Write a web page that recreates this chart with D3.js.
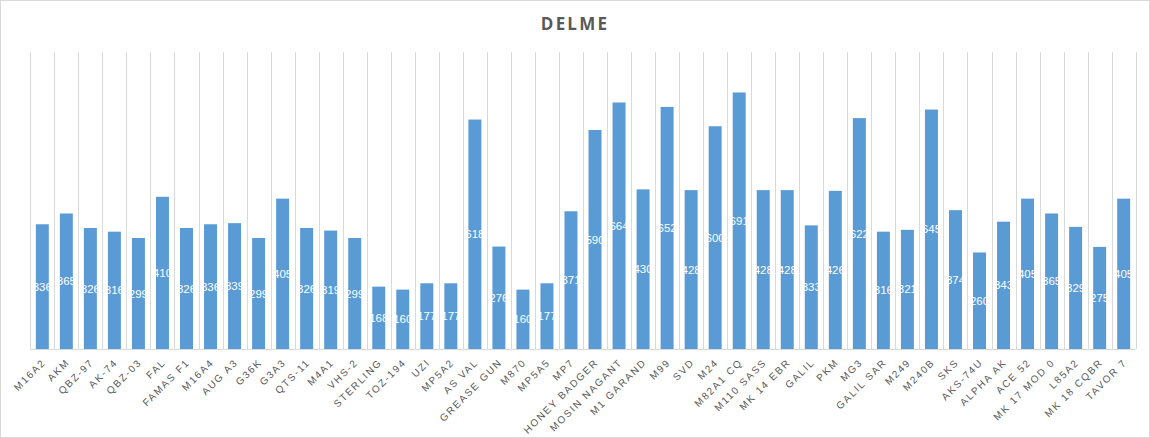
<!DOCTYPE html>
<html>
<head>
<meta charset="utf-8">
<script src="https://cdn.jsdelivr.net/npm/d3@7"></script>
<style>
  body { margin: 0; background: #fff; }
  svg { display: block; }
</style>
</head>
<body>
<div id="chart"></div>
<script>
// Weapons shown on the x axis
const weapons = ["M16A2", "AKM", "QBZ-97", "AK-74", "QBZ-03", "FAL", "FAMAS F1", "M16A4", "AUG A3", "G36K",
  "G3A3", "QTS-11", "M4A1", "VHS-2", "STERLING", "TOZ-194", "UZI", "MP5A2", "AS VAL", "GREASE GUN",
  "M870", "MP5A5", "MP7", "HONEY BADGER", "MOSIN NAGANT", "M1 GARAND", "M99", "SVD", "M24", "M82A1 CQ",
  "M110 SASS", "MK 14 EBR", "GALIL", "PKM", "MG3", "GALIL SAR", "M249", "M240B", "SKS", "AKS-74U",
  "ALPHA AK", "ACE 52", "MK 17 MOD 0", "L85A2", "MK 18 CQBR", "TAVOR 7"];

// One value per weapon
const values = [336, 365, 326, 316, 299, 410, 326, 336, 339, 299,
  405, 326, 319, 299, 168, 160, 177, 177, 618, 276,
  160, 177, 371, 590, 664, 430, 652, 428, 600, 691,
  428, 428, 333, 426, 622, 316, 321, 645, 374, 260,
  343, 405, 365, 329, 275, 405];

const yDomain = [0, 800];

const width = 1150, height = 438;
const margin = { top: 52, right: 14.3, bottom: 89, left: 30.3 };

const svg = d3.select("#chart").append("svg")
  .attr("width", width)
  .attr("height", height);

// outer chart border
svg.append("rect")
  .attr("x", 0.5).attr("y", 0.5)
  .attr("width", width - 1).attr("height", height - 1)
  .attr("fill", "#fff")
  .attr("stroke", "#d9d9d9");

// title
svg.append("text")
  .attr("x", 575)
  .attr("y", 30)
  .attr("text-anchor", "middle")
  .style("font-family", "'Open Sans', sans-serif")
  .style("font-size", "17px")
  .style("font-weight", "bold")
  .style("letter-spacing", "2.2px")
  .style("fill", "#595959")
  .text("DELME");

const x = d3.scaleBand()
  .domain(weapons)
  .range([margin.left, width - margin.right])
  .padding(0);

const y = d3.scaleLinear()
  .domain(yDomain)
  .range([height - margin.bottom, margin.top]);

const barW = x.step() * 0.54;

// vertical gridlines between categories
const g = svg.append("g");
const bounds = weapons.map(d => x(d)).concat([x(weapons[weapons.length - 1]) + x.step()]);
g.selectAll(".grid")
  .data(bounds)
  .enter().append("line")
  .attr("class", "grid")
  .attr("x1", d => Math.round(d) + 0.5)
  .attr("x2", d => Math.round(d) + 0.5)
  .attr("y1", y(yDomain[1]))
  .attr("y2", y(0))
  .attr("stroke", "#d9d9d9")
  .attr("stroke-width", 1);

// bars
g.selectAll(".bar")
  .data(values)
  .enter().append("rect")
  .attr("class", "bar")
  .attr("x", (d, i) => x(weapons[i]) + (x.step() - barW) / 2)
  .attr("y", d => y(d))
  .attr("width", barW)
  .attr("height", d => y(0) - y(d))
  .attr("fill", "#5b9bd5");

// baseline
g.append("line")
  .attr("x1", margin.left)
  .attr("x2", width - margin.right)
  .attr("y1", Math.round(y(0)) + 0.5)
  .attr("y2", Math.round(y(0)) + 0.5)
  .attr("stroke", "#d9d9d9");

// data labels, white, centred in the bar
g.selectAll(".lbl")
  .data(values)
  .enter().append("text")
  .attr("class", "lbl")
  .attr("x", (d, i) => x(weapons[i]) + x.step() / 2)
  .attr("y", d => (y(d) + y(0)) / 2)
  .attr("dy", "0.35em")
  .attr("text-anchor", "middle")
  .style("font-family", "'Liberation Sans', sans-serif")
  .style("font-size", "11.5px")
  .style("fill", "#fff")
  .text(d => d);

// rotated category labels
g.selectAll(".cat")
  .data(weapons)
  .enter().append("text")
  .attr("class", "cat")
  .attr("transform", d => `translate(${x(d) + x.step() / 2 + 4},${y(0) + 14}) rotate(-45)`)
  .attr("text-anchor", "end")
  .style("font-family", "'Liberation Sans', sans-serif")
  .style("font-size", "10px")
  .style("letter-spacing", "1.7px")
  .style("fill", "#595959")
  .text(d => d);
</script>
</body>
</html>
